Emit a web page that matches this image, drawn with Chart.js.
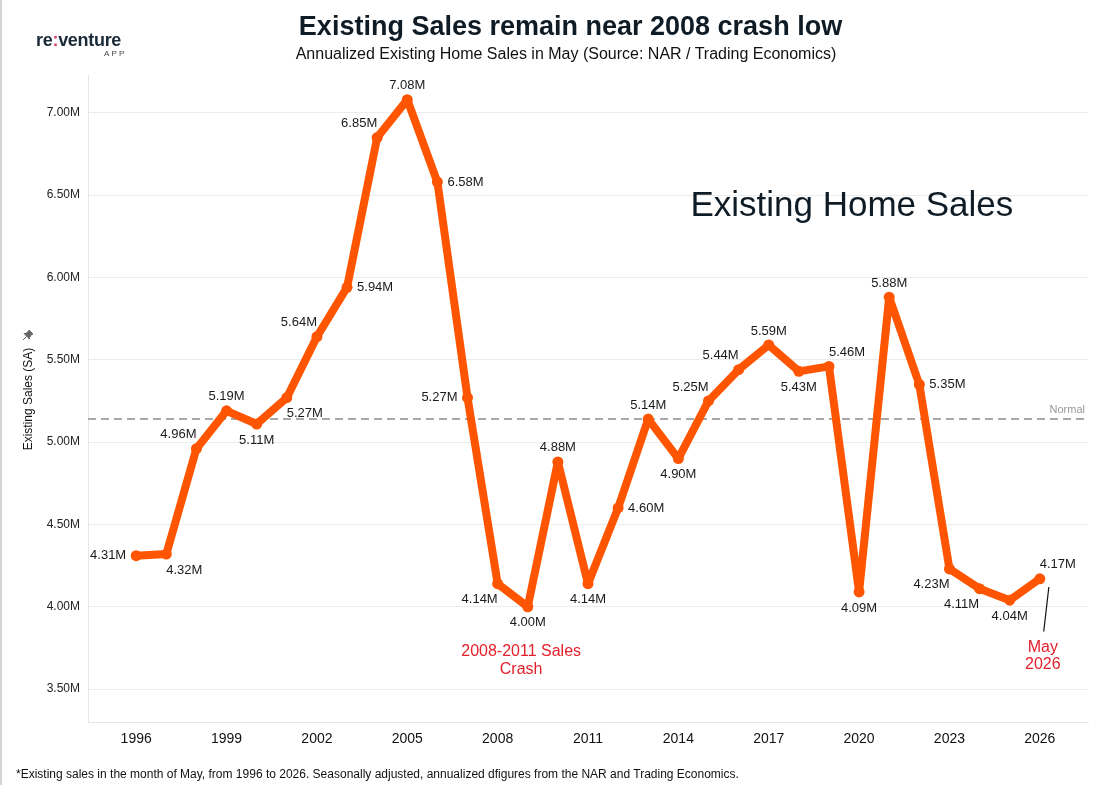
<!DOCTYPE html>
<html>
<head>
<meta charset="utf-8">
<script src="https://cdn.jsdelivr.net/npm/chart.js@4.4.1/dist/chart.umd.min.js"></script>
<style>
  html, body { margin: 0; padding: 0; background: #fff; }
  body { width: 1097px; height: 785px; position: relative; overflow: hidden; font-family: "Liberation Sans", Arial, sans-serif; }
  #frame { position: absolute; left: 0; top: 0; width: 2px; height: 785px; background: #d4d4d4; }
  #wrap { position: absolute; left: 0; top: 0; width: 1097px; height: 785px; }
  .title { position: absolute; left: 0; width: 1141px; top: 11px; text-align: center; font-size: 27px; font-weight: bold; color: #0f1c26; }
  .subtitle { position: absolute; left: 0; width: 1132px; top: 45px; text-align: center; font-size: 16px; color: #111; }
  .logo { position: absolute; left: 36px; top: 30px; font-size: 18px; font-weight: bold; color: #1b2a38; letter-spacing: -0.3px; }
  .logo span { color: #e23a6c; }
  .app { position: absolute; left: 104px; top: 49px; font-size: 8px; color: #444; letter-spacing: 2.2px; }
  .ytitle { position: absolute; left: 28px; top: 399px; transform: translate(-50%, -50%) rotate(-90deg); font-size: 12px; color: #111; white-space: nowrap; }
  .pin { position: absolute; left: 22px; top: 329px; width: 12px; height: 12px; }
  .footer { position: absolute; left: 16px; top: 767px; font-size: 12px; color: #111; }
</style>
</head>
<body>
<div id="frame"></div>
<div id="wrap"><canvas id="salesChart" width="1097" height="785"></canvas></div>
<div class="title">Existing Sales remain near 2008 crash low</div>
<div class="subtitle">Annualized Existing Home Sales in May (Source: NAR / Trading Economics)</div>
<div class="logo">re<span>:</span>venture</div>
<div class="app">APP</div>
<svg class="pin" viewBox="0 0 12 12"><path d="M7 1 L11 5 L9.5 5.5 L7.5 8.5 L7.5 10 L2 4.5 L3.5 4.5 L6.5 2.5 Z M4.5 7.5 L1 11" fill="#666" stroke="#666" stroke-width="1"/></svg>
<div class="ytitle">Existing Sales (SA)</div>
<div class="footer">*Existing sales in the month of May, from 1996 to 2026. Seasonally adjusted, annualized dfigures from the NAR and Trading Economics.</div>

<script>
const years = [1996, 1997, 1998, 1999, 2000, 2001, 2002, 2003, 2004, 2005, 2006, 2007, 2008, 2009, 2010, 2011,
  2012, 2013, 2014, 2015, 2016, 2017, 2018, 2019, 2020, 2021, 2022, 2023, 2024, 2025, 2026];
const sales = [4.31, 4.32, 4.96, 5.19, 5.11, 5.27, 5.64, 5.94, 6.85, 7.08, 6.58, 5.27, 4.14, 4.00, 4.88, 4.14,
  4.60, 5.14, 4.90, 5.25, 5.44, 5.59, 5.43, 5.46, 4.09, 5.88, 5.35, 4.23, 4.11, 4.04, 4.17];
const xTicks = [1996, 1999, 2002, 2005, 2008, 2011, 2014, 2017, 2020, 2023, 2026];
const yTicks = [3.5, 4.0, 4.5, 5.0, 5.5, 6.0, 6.5, 7.0];
const normalLevel = 5.14;

// where each value label sits relative to its point
const labelSpot = ['L', 'BR', 'AL', 'A', 'B', 'BR', 'AL', 'R', 'AL', 'A', 'R', 'L', 'BL', 'B', 'A', 'B',
  'R', 'A', 'B', 'AL', 'AL', 'A', 'B', 'AR', 'B', 'A', 'R', 'BL', 'BL', 'B', 'AR'];

const ORANGE = '#ff5500';
const RED = '#e3202b';

const overlay = {
  id: 'overlay',
  beforeDatasetsDraw(chart) {
    const { ctx, chartArea, scales } = chart;
    const y = scales.y.getPixelForValue(normalLevel);
    ctx.save();
    ctx.strokeStyle = '#a8a8a8';
    ctx.lineWidth = 2;
    ctx.setLineDash([8, 5]);
    ctx.beginPath();
    ctx.moveTo(chartArea.left, y);
    ctx.lineTo(chartArea.right, y);
    ctx.stroke();
    ctx.setLineDash([]);
    ctx.fillStyle = '#999';
    ctx.font = '11px "Liberation Sans", Arial, sans-serif';
    ctx.textAlign = 'right';
    ctx.textBaseline = 'middle';
    ctx.fillText('Normal', chartArea.right - 3, y - 9);
    ctx.restore();
  },
  afterDatasetsDraw(chart) {
    const { ctx, scales } = chart;
    const pts = chart.getDatasetMeta(0).data;
    ctx.save();
    ctx.font = '13px "Liberation Sans", Arial, sans-serif';
    ctx.fillStyle = '#1a1a1a';
    ctx.textBaseline = 'middle';
    pts.forEach((p, i) => {
      const txt = sales[i].toFixed(2) + 'M';
      const spot = labelSpot[i];
      let dx = 0, dy = 0, align = 'center';
      if (spot === 'L') { dx = -10; align = 'right'; }
      if (spot === 'R') { dx = 10; align = 'left'; }
      if (spot.includes('A')) dy = -14;
      if (spot.includes('B')) dy = 16;
      if (spot === 'AL' || spot === 'BL') dx = -18;
      if (spot === 'AR' || spot === 'BR') dx = 18;
      ctx.textAlign = align;
      ctx.fillText(txt, p.x + dx, p.y + dy);
    });

    // big label
    ctx.fillStyle = '#0f1c26';
    ctx.font = '35px "Liberation Sans", Arial, sans-serif';
    ctx.textAlign = 'center';
    ctx.fillText('Existing Home Sales', scales.x.getPixelForValue(2019.76), scales.y.getPixelForValue(6.43));

    // red notes
    ctx.fillStyle = RED;
    ctx.font = '16px "Liberation Sans", Arial, sans-serif';
    const cx = scales.x.getPixelForValue(2008.78);
    const cy = scales.y.getPixelForValue(3.73);
    ctx.fillText('2008-2011 Sales', cx, cy);
    ctx.fillText('Crash', cx, cy + 18);
    const mx = scales.x.getPixelForValue(2026.1);
    const my = scales.y.getPixelForValue(3.75);
    ctx.fillText('May', mx, my);
    ctx.fillText('2026', mx, my + 17);

    ctx.strokeStyle = '#111';
    ctx.lineWidth = 1.2;
    ctx.beginPath();
    ctx.moveTo(scales.x.getPixelForValue(2026.3), scales.y.getPixelForValue(4.12));
    ctx.lineTo(scales.x.getPixelForValue(2026.13), scales.y.getPixelForValue(3.85));
    ctx.stroke();
    ctx.restore();
  }
};

new Chart(document.getElementById('salesChart'), {
  type: 'line',
  data: {
    datasets: [{
      label: 'Existing Home Sales',
      data: years.map((yr, i) => ({ x: yr, y: sales[i] })),
      borderColor: ORANGE,
      backgroundColor: ORANGE,
      borderWidth: 8,
      borderJoinStyle: 'round',
      borderCapStyle: 'round',
      pointRadius: 5.5,
      pointBackgroundColor: ORANGE,
      pointBorderWidth: 0,
      tension: 0
    }]
  },
  options: {
    responsive: false,
    animation: false,
    layout: { padding: { top: 75, right: 9, left: 0, bottom: 0 } },
    plugins: { legend: { display: false }, tooltip: { enabled: false } },
    scales: {
      x: {
        type: 'linear',
        min: 1994.4,
        max: 2027.6,
        afterBuildTicks: s => { s.ticks = xTicks.map(v => ({ value: v })); },
        afterFit: s => { s.height = 63; },
        grid: { display: false },
        border: { display: true, color: '#e6e6e6', width: 1 },
        ticks: { color: '#111', font: { size: 14, family: '"Liberation Sans", Arial' }, padding: 1, maxRotation: 0, callback: v => String(v) }
      },
      y: {
        min: 3.3,
        max: 7.23,
        afterBuildTicks: s => { s.ticks = yTicks.map(v => ({ value: v })); },
        afterFit: s => { s.width = 88; },
        grid: { color: '#ececec', drawTicks: false },
        border: { display: true, color: '#e6e6e6', width: 1 },
        ticks: { color: '#222', font: { size: 12, family: '"Liberation Sans", Arial' }, padding: 8, callback: v => v.toFixed(2) + 'M' }
      }
    }
  },
  plugins: [overlay]
});
</script>
</body>
</html>
